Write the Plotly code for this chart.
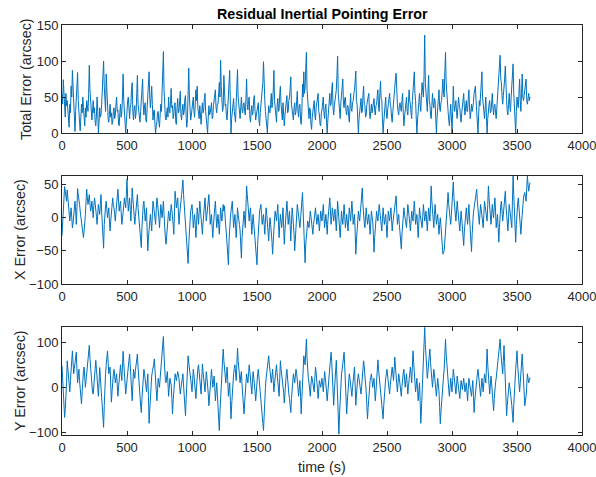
import plotly.graph_objects as go

time_start = 0
time_step = 5

total_error = [
    55, 40, 74, 50, 35, 22, 55, 38, 45, 25, 15, 8, 40, 28, 65, 50, 87, 60, 28, 12, 2, 30, 55, 70, 84, 45, 35, 15, 3, 20, 40, 28, 50, 35, 20, 10, 35, 22, 45, 30,
    30, 55, 94, 60, 40, 25, 18, 32, 45, 28, 35, 15, 10, 25, 50, 30, 0, 15, 35, 22, 25, 40, 55, 70, 100, 65, 45, 30, 82, 50, 35, 20, 15, 28, 40, 22, 28, 12, 15, 30,
    35, 20, 25, 40, 50, 30, 32, 12, 10, 28, 40, 22, 28, 50, 82, 45, 35, 15, 0, 20, 30, 45, 50, 25, 20, 35, 40, 62, 70, 30, 18, 35, 38, 20, 28, 55, 80, 40, 30, 20,
    15, 30, 45, 60, 75, 40, 25, 38, 42, 18, 15, 35, 55, 70, 85, 50, 35, 48, 65, 40, 18, 30, 32, 12, 0, 10, 15, 28, 30, 15, 8, 25, 40, 30, 55, 75, 113, 60, 35, 22,
    18, 30, 35, 22, 50, 30, 28, 45, 62, 35, 38, 20, 25, 40, 42, 15, 12, 35, 48, 28, 30, 45, 58, 25, 18, 32, 40, 25, 30, 48, 52, 22, 8, 20, 45, 90, 50, 30, 18, 25,
    32, 45, 50, 30, 22, 40, 60, 45, 65, 35, 28, 20, 38, 25, 12, 30, 42, 28, 32, 48, 55, 30, 18, 5, 0, 22, 38, 25, 28, 35, 42, 20, 22, 38, 48, 55, 60, 35, 28, 40,
    40, 55, 70, 50, 101, 65, 45, 30, 35, 80, 60, 38, 40, 22, 18, 35, 52, 60, 87, 40, 0, 20, 32, 45, 48, 30, 25, 15, 42, 60, 88, 50, 38, 25, 20, 35, 50, 32, 28, 40,
    42, 30, 25, 48, 75, 40, 32, 45, 50, 22, 15, 30, 38, 25, 30, 48, 52, 30, 18, 25, 32, 40, 42, 18, 10, 28, 38, 45, 55, 70, 99, 55, 45, 30, 22, 8, 0, 22, 38, 30,
    28, 40, 55, 35, 42, 60, 87, 45, 35, 20, 15, 38, 48, 30, 32, 55, 65, 40, 25, 18, 42, 30, 10, 25, 38, 48, 52, 28, 30, 45, 50, 62, 78, 40, 32, 20, 18, 35, 42, 25,
    30, 45, 58, 30, 22, 38, 40, 18, 12, 30, 68, 50, 85, 55, 62, 90, 112, 60, 45, 30, 20, 35, 32, 12, 5, 22, 30, 42, 45, 25, 18, 35, 40, 48, 55, 30, 25, 12, 10, 28,
    32, 42, 50, 28, 20, 35, 40, 15, 0, 18, 30, 45, 55, 38, 40, 60, 70, 35, 25, 38, 45, 52, 60, 80, 107, 55, 40, 22, 20, 42, 55, 70, 75, 40, 35, 48, 50, 30, 25, 38,
    38, 25, 15, 35, 55, 32, 30, 42, 45, 55, 60, 72, 86, 45, 40, 18, 0, 20, 35, 40, 48, 28, 30, 52, 65, 40, 38, 22, 25, 40, 45, 50, 55, 30, 20, 30, 40, 28, 35, 45,
    48, 32, 25, 38, 40, 52, 60, 35, 30, 55, 72, 48, 45, 20, 0, 15, 30, 42, 50, 28, 20, 32, 40, 48, 55, 40, 35, 22, 15, 30, 45, 52, 60, 75, 83, 50, 40, 30, 25, 38,
    42, 35, 30, 45, 55, 28, 10, 22, 35, 40, 50, 30, 25, 42, 60, 45, 40, 28, 20, 45, 65, 70, 85, 55, 45, 20, 0, 18, 35, 42, 55, 38, 30, 52, 70, 58, 50, 80, 136, 70,
    58, 40, 30, 55, 80, 45, 40, 25, 20, 38, 55, 40, 35, 48, 45, 20, 0, 22, 40, 52, 60, 35, 30, 42, 45, 60, 75, 55, 50, 85, 112, 70, 60, 40, 30, 18, 10, 25, 40, 22,
    0, 30, 65, 40, 30, 38, 45, 28, 20, 35, 50, 40, 35, 22, 15, 28, 40, 48, 55, 35, 25, 38, 45, 30, 30, 48, 60, 35, 20, 28, 40, 30, 35, 42, 55, 60, 65, 45, 30, 15,
    0, 25, 45, 38, 55, 70, 85, 50, 40, 25, 20, 35, 50, 22, 0, 20, 35, 40, 45, 28, 30, 42, 55, 35, 25, 38, 40, 28, 20, 35, 50, 65, 80, 90, 108, 75, 70, 50, 40, 52,
    60, 75, 93, 55, 45, 30, 25, 40, 55, 38, 30, 50, 70, 80, 96, 55, 40, 15, 0, 30, 50, 40, 35, 55, 75, 45, 30, 55, 82, 50, 45, 52, 60, 68, 75, 45, 40, 48, 55, 45,
    50,
]

x_error = [
    -27, -5, 10, 30, 47, 40, 35, 25, 42, 30, 20, 5, -5, 5, 15, 0, -15, -8, 5, 18, 25, 10, -10, 15, 44, 35, 30, 20, 10, 0, -5, -15, -27, -30, -20, -10, 5, 25, 43, 30,
    20, 28, 35, 22, 10, 15, 25, 12, 0, 18, 30, 22, 15, 2, -10, 5, 20, 12, 5, 20, 35, 10, -15, -30, -46, -10, 10, 18, 25, 10, 0, 8, 15, -5, -20, -5, 10, 22, 30, 18,
    15, 5, -5, 8, 20, 32, 43, 25, 10, 18, 25, 8, -10, -2, 5, 18, 30, 22, 15, 35, 58, 30, 10, 20, 30, 12, -5, 20, 45, 30, 20, 5, -10, 2, 15, 25, 35, 15, 0, -10,
    -20, -35, -45, -15, 10, 20, 25, 8, -5, 5, 15, -20, -50, -30, -15, -5, 5, -8, -20, 5, 25, 18, 10, 0, -10, 12, 30, 22, 15, 0, -15, 5, 20, 10, 0, 12, 25, 5, -20, -30,
    -40, -28, -15, 0, 10, 2, -5, 8, 20, 12, 5, -10, -25, 10, 40, 28, 15, 22, 30, 10, -10, 5, 20, 28, 35, 45, 57, 35, 20, 5, -10, -22, -35, -50, -69, -40, -20, -5, 10, 15,
    20, 5, -15, -5, 5, -12, -30, -10, 15, 5, -10, 8, 25, 12, 0, -12, -25, -8, 10, 18, 30, 12, -5, 5, 15, 25, 35, 15, -10, -2, 5, -15, -30, -12, 10, 15, 25, 5, -15, -5,
    5, -10, -25, -5, 15, 5, -5, 8, 20, 10, 18, 0, -20, -30, -40, -55, -71, -35, -10, 0, 10, 18, 25, 5, -15, -5, 5, -12, -30, -10, 15, 5, 0, -10, -20, -40, -61, -30, -10, 0,
    10, -2, -15, 15, 48, 35, 20, 5, -5, 8, 15, -5, -25, -10, 5, -8, -20, -30, -40, -55, -71, -40, -15, 0, 10, 15, 20, 5, -10, -2, 5, -10, -25, -5, 15, 5, -5, -20, -35, -15,
    0, -10, -20, -35, -55, -30, -15, 0, 10, 2, -5, 8, 20, -5, -30, -10, 5, -5, -15, 0, 15, -15, -40, -20, 0, 12, 25, 8, -10, 0, 10, -12, -35, -10, 15, 5, -5, -25, -50, -30,
    -10, 5, 20, 12, 5, -5, -15, -2, 10, 25, 38, 10, -20, -45, -68, -40, -25, -12, -5, -10, -15, -2, 10, 2, -5, -15, -25, -10, 0, 8, 15, 2, -10, -2, 5, -8, -20, -5, 10, 2,
    -5, 8, 20, 2, -15, -5, 5, -10, -25, -5, 10, 22, 30, 10, -10, 2, 15, 5, -5, 5, 13, -5, -20, 0, 25, 12, 0, -15, -30, -10, 10, 0, -10, 5, 20, 2, -15, -5, 5, -8,
    -20, -2, 15, 5, -5, 10, 25, 8, -10, -2, 5, -20, -55, -35, -20, -5, 10, 2, -5, 8, 20, 35, 45, 20, 0, -8, -15, 0, 15, 2, -10, -2, 5, -10, -25, -8, 10, 2, -5, -25,
    -52, -30, -15, -2, 10, 2, -5, 8, 20, 10, 0, -10, -20, -2, 15, 2, -10, -2, 5, -12, -30, -10, 10, 2, -5, 5, 15, -2, -20, -8, 0, 10, 20, 25, 33, 12, -10, -2, 5, -10,
    -25, -35, -47, -25, -10, 5, 15, 5, 0, -8, -15, 2, 20, 12, 5, -8, -20, -5, 10, 2, -5, 10, 25, 8, -10, -2, 5, -12, -30, -8, 15, 5, 0, -8, -15, 2, 20, 8, -5, 2,
    10, -5, -20, -2, 15, 5, -5, 20, 48, 25, 10, -2, -15, 5, 20, 5, -10, -2, 5, -10, -25, -10, 0, -12, -30, -45, -55, -52, -50, -35, -20, -5, 10, 25, 38, 20, 5, -5, -10, 5,
    20, 35, 54, 30, 15, 5, -5, 10, 25, 12, 0, -10, -20, -5, 10, -2, -15, -30, -42, -20, -5, 5, 15, 2, -10, 5, 20, 0, -20, -35, -51, -25, 0, 8, 15, 22, 30, 38, 43, 25,
    10, 0, -10, 5, 20, 12, 5, -5, -15, 5, 25, 18, 10, 2, -5, 20, 48, 30, 15, 2, -10, 5, 20, 8, 0, 15, 30, 10, -15, -5, 5, -15, -37, -15, 10, 18, 25, 10, -5, 5,
    15, 28, 40, 20, 0, -10, -20, 0, 20, 12, 5, -5, -15, 25, 63, 35, 10, -15, -37, -10, 15, 22, 30, 15, 0, -12, -25, -8, 10, 20, 30, 35, 38, 30, 25, 45, 63, 50, 40, 48,
    53,
]

y_error = [
    48, 15, -20, -45, -67, -50, -30, 10, 59, 40, 20, 5, -10, 15, 40, 60, 81, 55, 30, 42, 55, 65, 78, 40, 10, 25, 40, 15, -10, -25, -37, -10, 20, 35, 45, 20, 0, 15, 30, 42,
    50, 70, 93, 65, 40, 15, -5, -12, -15, 10, 35, 48, 60, 40, 20, 0, -20, 10, 44, 22, 0, -20, -40, -65, -89, -40, 10, 30, 50, 65, 81, 55, 30, 38, 45, 5, -33, -10, 20, 30,
    40, 25, 10, 20, 30, 5, -20, 0, 25, 38, 50, 30, 15, 45, 80, 55, 30, 5, -15, 0, 20, 32, 45, 60, 74, 40, 10, -10, -30, 5, 40, 30, 20, 38, 55, 65, 74, 45, 15, 0,
    -20, -40, -56, -25, 10, 25, 40, 30, 20, 5, -10, 10, 30, -20, -80, -50, -20, 5, 25, 35, 40, 50, 63, 35, 10, -10, -30, -5, 20, 10, 0, 20, 40, 50, 60, 85, 113, 70, 30, 15,
    10, 22, 35, 10, -20, 0, 20, 12, 5, -25, -59, -30, -10, 10, 30, 22, 15, 25, 35, 28, 20, 0, -15, -2, 10, 20, 30, 5, -20, -40, -63, -25, 10, 40, 70, 55, 45, 30, 20, 5,
    -10, 15, 40, 28, 15, -5, -25, 0, 30, 42, 50, 30, 10, -2, -15, 20, 52, 35, 20, 5, -10, 12, 35, 22, 10, -15, -41, -15, 15, 28, 40, 20, 0, 12, 25, 0, -30, -10, 10, -15,
    -40, -70, -96, -55, -20, 5, 30, 60, 85, 60, 40, 25, 10, 28, 45, 15, -20, -5, 10, -30, -70, -40, -10, 10, 30, 42, 50, 30, 15, 50, 87, 60, 40, 22, 10, 25, 35, 5, -20, -40,
    -59, -35, -10, 12, 30, 20, 10, 30, 50, 35, 20, 0, -15, 10, 35, 22, 10, -10, -30, -5, 20, 30, 40, 20, 0, -8, -20, -40, -60, -80, -96, -55, -20, 0, 20, 32, 45, 58, 70, 50,
    30, 20, 10, 25, 40, 15, -10, 8, 25, 38, 50, 30, 15, -5, -20, 20, 59, 42, 30, 20, 10, -12, -35, -5, 20, 30, 40, 15, -5, -15, -25, -40, -56, -25, 0, 15, 30, 20, 10, 25,
    40, 30, 20, 0, -20, -2, 15, -20, -59, -25, 10, 40, 70, 60, 50, 80, 107, 65, 30, 20, 10, -5, -20, 5, 25, 18, 10, 0, -10, 20, 45, 32, 20, -2, -25, -5, 15, 8, 0, 10,
    20, 5, -10, 12, 35, 22, 10, -10, -30, -5, 20, 32, 45, 60, 78, 55, 30, -5, -40, -10, 20, 40, 60, 20, -20, -65, -104, -60, -20, 5, 30, 40, 50, 65, 78, 45, 10, -25, -59, -30,
    -10, 12, 30, 20, 10, -5, -20, 0, 20, 32, 45, 5, -40, -15, 10, 20, 30, 15, 0, -8, -15, 2, 20, 40, 59, 45, 30, 10, -10, -40, -70, -45, -20, -2, 15, 22, 30, 15, 0, 10,
    20, -5, -30, -10, 10, 35, 61, 40, 25, 5, -10, -25, -40, -55, -70, -40, -10, 5, 20, 30, 40, 25, 10, -2, -15, 5, 25, 35, 45, 30, 15, 40, 67, 45, 20, 5, -10, 10, 30, 20,
    10, -5, -20, 2, 25, 32, 40, 20, 0, 15, 30, 8, -15, 2, 20, 32, 45, 28, 10, 45, 81, 55, 30, 10, -10, 5, 20, -5, -30, -10, 10, -30, -80, -50, -20, 10, 40, 80, 133, 95,
    60, 40, 20, 35, 50, 70, 85, 55, 30, 12, 0, 20, 40, 28, 15, -5, -20, 0, 20, 5, -10, -45, -81, -55, -30, -10, 10, 25, 40, 70, 107, 75, 50, 30, 10, -5, -20, 0, 20, 5,
    -10, 15, 40, 28, 15, 0, -15, 5, 25, 12, 0, -12, -25, -5, 15, 5, -5, 8, 20, 5, -10, 0, 10, -10, -30, -5, 20, 10, 0, -10, -20, -2, 15, -20, -56, -30, -10, 5, 20, 30,
    40, 20, 0, -10, -20, 0, 20, 5, -10, 10, 30, 20, 10, 45, 85, 50, 20, 2, -15, 5, 25, 8, -10, -30, -52, -25, 0, 10, 20, 35, 50, 65, 80, 95, 107, 80, 60, 45, 30, 60,
    93, 55, 20, -20, -63, -40, -20, -5, 10, 0, -10, -25, -40, -60, -78, -40, 0, 20, 40, 60, 81, 50, 20, 5, -10, 10, 30, 50, 74, 45, 20, -10, -41, -30, -20, 5, 30, 20, 10, 15,
    22,
]

time_s = [time_start + i * time_step for i in range(len(total_error))]

x_ticks = [0, 500, 1000, 1500, 2000, 2500, 3000, 3500, 4000]
total_ticks = [0, 50, 100, 150]
x_err_ticks = [-100, -50, 0, 50]
y_err_ticks = [-100, 0, 100]

W, H = 596, 477
LINE = "#0072BD"
AX = "#262626"
FONT = "Liberation Sans, Arial, sans-serif"

fig = go.Figure()
for i, ys in enumerate([total_error, x_error, y_error]):
    suffix = "" if i == 0 else str(i + 1)
    fig.add_trace(go.Scatter(x=time_s, y=ys, mode="lines",
                             line=dict(color=LINE, width=1),
                             xaxis="x" + suffix, yaxis="y" + suffix,
                             showlegend=False, hoverinfo="skip"))

xdom = [62 / W, 582 / W]
ydoms = [
    [(H - 133) / H, (H - 25) / H],
    [(H - 284) / H, (H - 176) / H],
    [(H - 435) / H, (H - 327) / H],
]
yranges = [[0, 150], [-100, 63], [-106, 134]]
yticks = [total_ticks, x_err_ticks, y_err_ticks]

common = dict(showgrid=False, zeroline=False, showline=True, mirror="ticks",
              linecolor=AX, linewidth=1, ticks="inside", ticklen=4,
              tickcolor=AX, tickwidth=1, automargin=False,
              ticklabeloverflow="allow",
              tickfont=dict(family=FONT, size=13, color=AX))

layout = dict(width=W, height=H, margin=dict(l=0, r=0, t=0, b=0, autoexpand=False),
              paper_bgcolor="white", plot_bgcolor="white", showlegend=False)
for i in range(3):
    s = "" if i == 0 else str(i + 1)
    layout["xaxis" + s] = dict(domain=xdom, range=[0, 4000], tickvals=x_ticks,
                               anchor="y" + s, **common)
    layout["yaxis" + s] = dict(domain=ydoms[i], range=yranges[i],
                               tickvals=yticks[i], anchor="x" + s, **common)
fig.update_layout(**layout)

ylabels = ["Total Error (arcsec)", "X Error (arcsec)", "Y Error (arcsec)"]
ylabel_x = [26, 20, 20]
ann = []
for i, lab in enumerate(ylabels):
    ann.append(dict(text=lab, x=ylabel_x[i] / W, y=sum(ydoms[i]) / 2, xref="paper",
                    yref="paper", xanchor="center", yanchor="middle",
                    textangle=-90, showarrow=False,
                    font=dict(family=FONT, size=14.3, color=AX)))
ann.append(dict(text="<b>Residual Inertial Pointing Error</b>", x=322 / W,
                y=(H - 14) / H, xref="paper", yref="paper", xanchor="center",
                yanchor="middle", showarrow=False,
                font=dict(family=FONT, size=14.3, color="black")))
ann.append(dict(text="time (s)", x=322 / W, y=(H - 467) / H, xref="paper",
                yref="paper", xanchor="center", yanchor="middle",
                showarrow=False, font=dict(family=FONT, size=14.3, color=AX)))
fig.update_layout(annotations=ann)

fig.write_html("out.html")
